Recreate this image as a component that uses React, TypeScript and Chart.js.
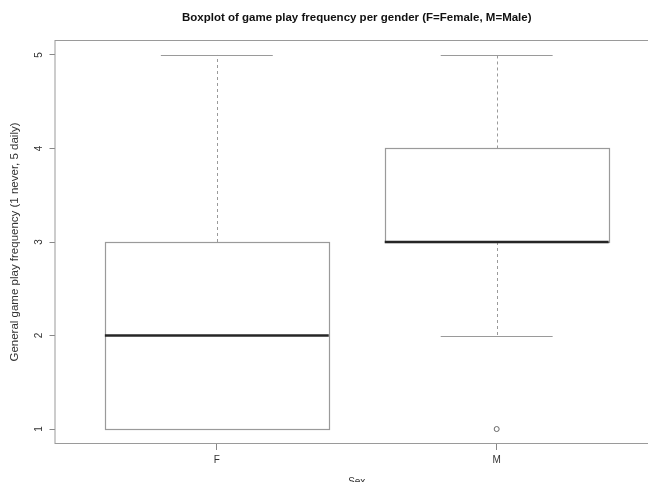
import { useEffect, useRef } from 'react';
import { Chart, registerables } from 'chart.js';

Chart.register(...registerables);

const categories = ['F', 'M'];
const whiskerLow = [1, 2];
const q1 = [1, 3];
const medians = [2, 3];
const q3 = [3, 4];
const whiskerHigh = [5, 5];
const outlierValues = [[], [1]];
const yTicks = [1, 2, 3, 4, 5];

const titleText = 'Boxplot of game play frequency per gender (F=Female, M=Male)';
const yTitle = 'General game play frequency (1 never, 5 daily)';
const xTitle = 'Sex';

const FONT = '"Liberation Sans", Arial, Helvetica, sans-serif';
const LINE = '#9a9a9a';

const boxplotPlugin = {
  id: 'boxplotDraw',
  beforeDatasetsDraw(chart: any) {
    const { ctx, chartArea, scales } = chart;
    const xs = scales.x;
    const ys = scales.y;
    ctx.save();
    ctx.strokeStyle = LINE;
    ctx.lineWidth = 1;
    ctx.strokeRect(chartArea.left + 0.5, chartArea.top + 0.5, chartArea.right - chartArea.left, chartArea.bottom - chartArea.top - 1);
    const halfBox = 0.4;
    const halfCap = 0.2;
    categories.forEach((_, i) => {
      const c = i + 1;
      const xl = xs.getPixelForValue(c - halfBox);
      const xr = xs.getPixelForValue(c + halfBox);
      const xc = xs.getPixelForValue(c);
      const cl = xs.getPixelForValue(c - halfCap);
      const cr = xs.getPixelForValue(c + halfCap);
      const yq1 = ys.getPixelForValue(q1[i]);
      const yq3 = ys.getPixelForValue(q3[i]);
      const ymed = ys.getPixelForValue(medians[i]);
      const ylo = ys.getPixelForValue(whiskerLow[i]);
      const yhi = ys.getPixelForValue(whiskerHigh[i]);
      ctx.strokeStyle = LINE;
      ctx.lineWidth = 1;
      ctx.setLineDash([3, 3]);
      ctx.beginPath();
      ctx.moveTo(Math.round(xc) + 0.5, yq3);
      ctx.lineTo(Math.round(xc) + 0.5, yhi);
      ctx.moveTo(Math.round(xc) + 0.5, yq1);
      ctx.lineTo(Math.round(xc) + 0.5, ylo);
      ctx.stroke();
      ctx.setLineDash([]);
      ctx.beginPath();
      ctx.moveTo(cl, Math.round(yhi) + 0.5);
      ctx.lineTo(cr, Math.round(yhi) + 0.5);
      ctx.moveTo(cl, Math.round(ylo) + 0.5);
      ctx.lineTo(cr, Math.round(ylo) + 0.5);
      ctx.stroke();
      ctx.strokeStyle = LINE;
      ctx.lineWidth = 1.2;
      ctx.strokeRect(Math.round(xl) + 0.5, Math.round(yq3) + 0.5, Math.round(xr - xl), Math.round(yq1 - yq3));
      ctx.strokeStyle = '#262626';
      ctx.lineWidth = 2.4;
      ctx.beginPath();
      ctx.moveTo(xl, ymed);
      ctx.lineTo(xr, ymed);
      ctx.stroke();
    });
    ctx.restore();
  },
  afterDraw(chart: any) {
    const { ctx, chartArea, scales } = chart;
    const ys = scales.y;
    const cx = (chartArea.left + chartArea.right) / 2;
    const cy = (chartArea.top + chartArea.bottom) / 2;
    ctx.save();
    ctx.fillStyle = '#111';
    ctx.textAlign = 'center';
    ctx.textBaseline = 'middle';
    ctx.font = `bold 11.5px ${FONT}`;
    ctx.fillText(titleText, cx, 18);
    ctx.fillStyle = '#333';
    ctx.font = `10px ${FONT}`;
    ctx.textBaseline = 'top';
    ctx.fillText(xTitle, cx, 477);
    ctx.save();
    ctx.translate(15, cy);
    ctx.rotate(-Math.PI / 2);
    ctx.textBaseline = 'middle';
    ctx.font = `11.5px ${FONT}`;
    ctx.fillText(yTitle, 0, 0);
    ctx.restore();
    ctx.font = `10px ${FONT}`;
    yTicks.forEach((v) => {
      const py = ys.getPixelForValue(v);
      ctx.save();
      ctx.translate(39, py);
      ctx.rotate(-Math.PI / 2);
      ctx.textBaseline = 'middle';
      ctx.textAlign = 'center';
      ctx.fillText(String(v), 0, 0);
      ctx.restore();
    });
    ctx.restore();
  },
};

export default function App() {
  const ref = useRef<HTMLCanvasElement | null>(null);
  useEffect(() => {
    document.body.style.margin = '0';
    const canvas = ref.current;
    if (!canvas) return;
    const outlierData: { x: number; y: number }[] = [];
    outlierValues.forEach((vals, i) => vals.forEach((v) => outlierData.push({ x: i + 1, y: v })));
    const chart = new Chart(canvas, {
      type: 'scatter',
      data: {
        datasets: [
          {
            label: 'outliers',
            data: outlierData,
            pointStyle: 'circle',
            pointRadius: 2.5,
            pointBorderWidth: 1,
            pointBorderColor: '#666',
            pointBackgroundColor: 'rgba(0,0,0,0)',
          },
        ],
      },
      options: {
        animation: false,
        responsive: false,
        maintainAspectRatio: false,
        devicePixelRatio: 1,
        layout: { padding: { top: 40, right: 13, left: 0, bottom: 0 } },
        plugins: { legend: { display: false }, tooltip: { enabled: false }, title: { display: false } },
        scales: {
          x: {
            type: 'linear',
            min: 0.42,
            max: 2.58,
            afterBuildTicks: (scale: any) => {
              scale.ticks = categories.map((_, i) => ({ value: i + 1 }));
            },
            afterFit: (scale: any) => {
              scale.height = 38;
            },
            ticks: {
              callback: (v: any) => categories[Number(v) - 1] ?? '',
              color: '#333',
              font: { family: FONT, size: 10 },
              padding: 4,
              maxRotation: 0,
              autoSkip: false,
            },
            grid: { drawOnChartArea: false, drawTicks: true, tickLength: 6, tickColor: '#888' },
            border: { display: false },
          },
          y: {
            type: 'linear',
            min: 0.84,
            max: 5.16,
            afterBuildTicks: (scale: any) => {
              scale.ticks = yTicks.map((v) => ({ value: v }));
            },
            afterFit: (scale: any) => {
              scale.width = 54.5;
            },
            ticks: { display: false },
            grid: { drawOnChartArea: false, drawTicks: true, tickLength: 5, tickColor: '#888' },
            border: { display: false },
          },
        },
      },
      plugins: [boxplotPlugin],
    });
    return () => chart.destroy();
  }, []);
  return (
    <div style={{ position: 'absolute', left: 0, top: 0, width: 648, height: 482, overflow: 'hidden', background: '#fff' }}>
      <canvas ref={ref} width={672} height={482} style={{ display: 'block' }} />
    </div>
  );
}
